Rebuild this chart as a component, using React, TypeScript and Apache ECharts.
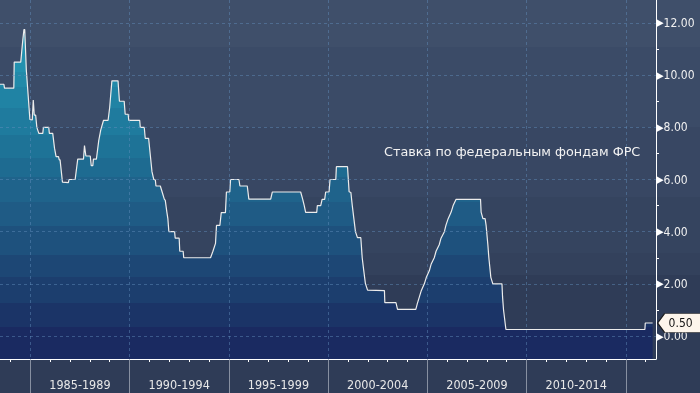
import React, { useEffect, useRef } from "react";
import * as echarts from "echarts";

// Fed funds target rate (decimal years / percent)
const times = [
  1983.474, 1983.67, 1983.7, 1984.17, 1984.19, 1984.52, 1984.58, 1984.63, 1984.68, 1984.72,
  1984.8, 1984.98, 1985.1, 1985.15, 1985.2, 1985.27, 1985.33, 1985.43, 1985.63, 1985.66,
  1985.93, 1985.96, 1986.13, 1986.22, 1986.3, 1986.42, 1986.46, 1986.5, 1986.62, 1986.92,
  1986.95, 1987.26, 1987.39, 1987.68, 1987.73, 1987.8, 1988.02, 1988.07, 1988.15, 1988.18,
  1988.33, 1988.45, 1988.55, 1988.69, 1988.92, 1989.0, 1989.11, 1989.42, 1989.49, 1989.73,
  1989.78, 1989.93, 1989.96, 1990.51, 1990.54, 1990.74, 1990.79, 1990.96, 1991.05, 1991.13,
  1991.22, 1991.3, 1991.33, 1991.55, 1991.65, 1991.75, 1991.8, 1991.88, 1991.93, 1991.98,
  1992.27, 1992.3, 1992.5, 1992.53, 1992.7, 1992.73, 1994.08, 1994.2, 1994.33, 1994.38,
  1994.55, 1994.62, 1994.83, 1994.88, 1995.05, 1995.09, 1995.51, 1995.56, 1995.93, 1996.01,
  1997.11, 1997.19, 1998.62, 1998.72, 1998.8, 1998.87, 1999.43, 1999.46, 1999.63, 1999.7,
  1999.83, 1999.88, 2000.05, 2000.1, 2000.39, 2000.42, 2000.98, 2001.06, 2001.15, 2001.22,
  2001.3, 2001.38, 2001.48, 2001.65, 2001.72, 2001.8, 2001.88, 2001.99, 2002.84, 2002.86,
  2003.42, 2003.5, 2004.42, 2004.5, 2004.6, 2004.7, 2004.85, 2004.95, 2005.1, 2005.19,
  2005.35, 2005.44, 2005.6, 2005.69, 2005.86, 2005.94, 2006.05, 2006.2, 2006.3, 2006.45,
  2007.68, 2007.71, 2007.8, 2007.91, 2007.96, 2008.05, 2008.1, 2008.2, 2008.3, 2008.76,
  2008.79, 2008.84, 2008.96, 2015.96, 2015.98, 2016.35,
];
const rates = [
  9.65, 9.65, 9.5, 9.5, 10.5, 10.5, 11.0, 11.4, 11.75, 11.75,
  10.2, 8.3, 8.28, 9.05, 8.47, 8.47, 8.0, 7.77, 7.77, 8.0,
  8.0, 7.77, 7.77, 7.2, 6.88, 6.88, 6.75, 6.75, 5.9, 5.88,
  6.0, 6.0, 6.78, 6.78, 7.3, 6.9, 6.9, 6.53, 6.53, 6.78,
  6.78, 7.5, 7.9, 8.27, 8.27, 8.77, 9.78, 9.78, 9.0, 9.0,
  8.5, 8.5, 8.27, 8.27, 8.0, 8.0, 7.58, 7.58, 6.9, 6.3,
  6.0, 5.98, 5.75, 5.75, 5.5, 5.25, 5.2, 4.75, 4.5, 4.0,
  4.0, 3.75, 3.75, 3.25, 3.25, 3.0, 3.0, 3.25, 3.55, 4.24,
  4.24, 4.73, 4.73, 5.52, 5.52, 6.0, 6.0, 5.75, 5.75, 5.25,
  5.25, 5.52, 5.52, 5.25, 5.0, 4.74, 4.74, 5.0, 5.0, 5.24,
  5.24, 5.52, 5.52, 6.0, 6.0, 6.49, 6.49, 5.53, 5.5, 5.0,
  4.5, 4.0, 3.77, 3.77, 3.0, 2.5, 2.02, 1.76, 1.74, 1.28,
  1.28, 1.02, 1.02, 1.25, 1.5, 1.75, 2.0, 2.25, 2.5, 2.75,
  3.0, 3.25, 3.5, 3.75, 4.0, 4.25, 4.5, 4.75, 5.0, 5.24,
  5.24, 4.75, 4.5, 4.5, 4.25, 3.5, 3.0, 2.25, 2.0, 2.0,
  1.5, 1.0, 0.25, 0.25, 0.5, 0.5,
];

const periodStarts = [1985, 1990, 1995, 2000, 2005, 2010, 2015];
const periodLabelCenters = [1987.5, 1992.5, 1997.5, 2002.5, 2007.5, 2012.5];
const yearTicks = [
  1984, 1986, 1987, 1988, 1989, 1991, 1992, 1993, 1994, 1996, 1997, 1998, 1999,
  2001, 2002, 2003, 2004, 2006, 2007, 2008, 2009, 2011, 2012, 2013, 2014, 2016,
];
const rateTicks = [0, 2, 4, 6, 8, 10, 12];
const rateMinorTicks = [1, 3, 5, 7, 9, 11];
const titleText = "Ставка по федеральным фондам ФРС";

const X_MIN = 1983.474;
const X_MAX = 2016.52;
const Y_MIN = -0.88;
const Y_MAX = 12.88;

const CONDENSED = "'DejaVu Sans Condensed', 'Liberation Sans Narrow', 'DejaVu Sans', sans-serif";

function stepped(bands: [number, number, string][]) {
  const stops: { offset: number; color: string }[] = [];
  bands.forEach(([a, b, c]) => {
    stops.push({ offset: a, color: c });
    stops.push({ offset: b, color: c });
  });
  return stops;
}

export default function App() {
  const ref = useRef<HTMLDivElement>(null);

  useEffect(() => {
    if (!ref.current) return;
    const chart = echarts.init(ref.current, undefined, { renderer: "svg" });
    const data = times.map((t, i) => [t, rates[i]]);
    const plotH = 359;
    const fillBands: [number, number, string][] = [
      [0, 72, "#2391af"],
      [72, 87, "#228aa9"],
      [87, 108, "#2083a4"],
      [108, 135, "#1f7b9e"],
      [135, 158, "#1e7397"],
      [158, 177, "#1e6b91"],
      [177, 202, "#1f638b"],
      [202, 226, "#1f5b85"],
      [226, 255, "#1e517d"],
      [255, 277, "#1d4775"],
      [277, 303, "#1c3e6e"],
      [303, 327, "#1b3467"],
      [327, 359, "#1a2a61"],
    ];
    const fill = new echarts.graphic.LinearGradient(
      0, 0, 0, plotH,
      stepped(fillBands.map(([a, b, c]) => [a / plotH, b / plotH, c] as [number, number, string])),
      true
    );
    const bgBands: [number, number, string][] = [
      [0, 47, "#3f4f6a"],
      [47, 127, "#3b4b67"],
      [127, 197, "#384763"],
      [197, 253, "#35445f"],
      [253, 275, "#33415c"],
      [275, 393, "#2f3c57"],
    ];
    const bg = new echarts.graphic.LinearGradient(
      0, 0, 0, 1,
      stepped(bgBands.map(([a, b, c]) => [a / 393, b / 393, c] as [number, number, string]))
    );
    const gridDash = { color: "rgba(100,145,190,0.45)", width: 1, type: [3, 3] as any };
    const last = data[data.length - 1];

    chart.setOption({
      animation: false,
      graphic: [
        {
          type: "rect",
          shape: { x: 0, y: 0, width: 700, height: 393 },
          style: { fill: bg },
          z: -10,
          silent: true,
        },
      ],
      title: {
        text: titleText,
        left: 384,
        top: 145,
        padding: 0,
        textStyle: { color: "#f2f2f2", fontSize: 12.8, fontWeight: "normal", fontFamily: "'DejaVu Sans', sans-serif" },
      },
      grid: { left: 0, right: 44, top: 0, bottom: 34 },
      xAxis: [
        {
          type: "value",
          min: X_MIN,
          max: X_MAX,
          position: "bottom",
          z: 3,
          axisLine: { show: true, onZero: false, lineStyle: { color: "#ffffff", width: 1 } },
          axisTick: {
            show: true,
            customValues: periodStarts,
            length: 34,
            lineStyle: { color: "rgba(165,172,185,0.75)", width: 1 },
          },
          axisLabel: {
            show: true,
            customValues: periodLabelCenters,
            formatter: (v: number) => `${v - 2.5}-${v + 1.5}`,
            color: "#e8e8e8",
            fontSize: 12.5,
            fontFamily: CONDENSED,
            margin: 19,
          },
          splitLine: { show: true, lineStyle: gridDash },
        },
        {
          type: "value",
          min: X_MIN,
          max: X_MAX,
          position: "bottom",
          z: 3,
          axisLine: { show: false, onZero: false },
          axisTick: { show: true, customValues: yearTicks, length: 3, lineStyle: { color: "#ffffff", width: 1 } },
          axisLabel: { show: false },
          splitLine: { show: false },
        },
      ],
      yAxis: [
        {
          type: "value",
          min: Y_MIN,
          max: Y_MAX,
          position: "right",
          z: 3,
          axisLine: { show: true, onZero: false, lineStyle: { color: "#ffffff", width: 1 } },
          axisTick: { show: false, customValues: rateTicks },
          axisLabel: {
            show: true,
            customValues: rateTicks,
            formatter: (v: number) => `{t|▶}${v.toFixed(2)}`,
            color: "#f0f0f0",
            fontSize: 12,
            fontFamily: CONDENSED,
            margin: 0,
            rich: { t: { fontSize: 11, color: "#ffffff", padding: [0, 0, 0, 0] } },
          },
          splitLine: { show: true, lineStyle: gridDash },
        },
        {
          type: "value",
          min: Y_MIN,
          max: Y_MAX,
          position: "right",
          z: 3,
          axisLine: { show: false, onZero: false },
          axisTick: { show: true, customValues: rateMinorTicks, length: 3, lineStyle: { color: "#ffffff", width: 1 } },
          axisLabel: { show: false },
          splitLine: { show: false },
        },
      ],
      series: [
        {
          type: "line",
          data,
          xAxisIndex: 0,
          yAxisIndex: 0,
          symbol: "none",
          z: 2,
          lineStyle: { color: "#ececec", width: 1.2 },
          areaStyle: { origin: "start", color: fill, opacity: 1 },
          markPoint: {
            silent: true,
            symbol: "path://M0,10 L7,0 L44,0 L44,20 L7,20 Z",
            symbolSize: [44, 19],
            symbolKeepAspect: false,
            symbolOffset: [27, 0],
            itemStyle: { color: "#fdf5ec", borderColor: "#1a1a1a", borderWidth: 1 },
            label: {
              show: true,
              position: "inside",
              offset: [1, 0],
              formatter: (p: any) => Number(p.value).toFixed(2),
              color: "#111111",
              fontSize: 12,
              fontFamily: CONDENSED,
            },
            data: [{ coord: last, value: last[1] }],
          },
        },
      ],
    });
    return () => chart.dispose();
  }, []);

  return (
    <div
      ref={ref}
      style={{ position: "fixed", left: 0, top: 0, width: 700, height: 393 }}
    />
  );
}
